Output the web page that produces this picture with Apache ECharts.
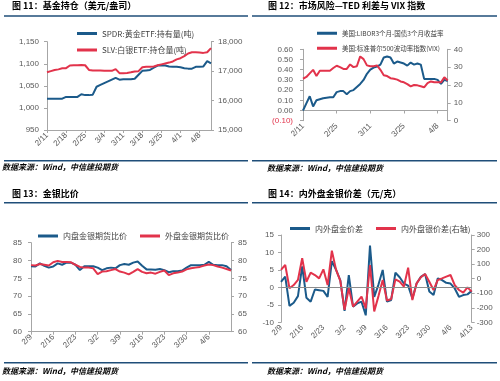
<!DOCTYPE html>
<html><head><meta charset="utf-8">
<script src="https://cdn.jsdelivr.net/npm/echarts@6/dist/echarts.min.js"></script>
<style>html,body{margin:0;padding:0;background:#fff}#c{width:500px;height:381px}</style>
</head><body><div id="c"></div>
<script>
// ---------- DATA ----------
const datesA = ['2/11','2/12','2/13','2/16','2/17','2/18','2/19','2/20','2/23','2/24','2/25','2/26','2/27','3/2','3/3','3/4','3/5','3/6','3/9','3/10','3/11','3/12','3/13','3/16','3/17','3/18','3/19','3/20','3/23','3/24','3/25','3/26','3/27','3/30','3/31','4/1','4/2','4/3','4/6','4/7','4/8','4/9','4/10','4/13'];
const datesB = ['2/9','2/10','2/11','2/12','2/13','2/16','2/17','2/18','2/19','2/20','2/23','2/24','2/25','2/26','2/27','3/2','3/3','3/4','3/5','3/6','3/9','3/10','3/11','3/12','3/13','3/16','3/17','3/18','3/19','3/20','3/23','3/24','3/25','3/26','3/27','3/30','3/31','4/1','4/2','4/3','4/6','4/7','4/8','4/9','4/10','4/13'];

// Fig 11
const spdrName = 'SPDR:黄金ETF:持有量(吨)';
const slvName = 'SLV:白银ETF:持仓量(吨)';
const spdr = [1021,1021,1021,1021,1021,1025,1025,1025,1025,1031,1029,1029,1030,1048,1052,1056,1060,1064,1068,1064,1065,1065,1065,1066,1075,1084,1085,1086,1091,1096,1096,1096,1094,1093,1093,1092,1090,1089,1089,1093,1093,1094,1106,1101];
const slv = [16960,17000,17040,17060,17095,17100,17190,17200,17200,17210,17200,17040,17020,17020,17020,17010,17010,17010,17070,16930,16930,16940,16960,16990,17000,17130,17150,17150,17160,17200,17230,17260,17290,17330,17400,17440,17510,17600,17640,17640,17630,17620,17640,17780];

// Fig 12
const tedName = '美国:LIBOR3个月-国债3个月收益率';
const vixName = '美国:标准普尔500波动率指数(VIX)';
const ted = [0.00,0.07,0.14,0.04,0.10,0.11,0.12,0.125,0.13,0.13,0.18,0.19,0.19,0.16,0.19,0.20,0.23,0.26,0.30,0.36,0.40,0.42,0.43,0.45,0.52,0.53,0.52,0.46,0.48,0.47,0.46,0.44,0.47,0.45,0.46,0.45,0.31,0.31,0.31,0.31,0.30,0.26,0.30,0.29];
const vix = [23.5,24.5,26.5,28.5,25,28,28,28,28,29.5,30.8,30,29,29,31.5,30,30.5,36,34.5,31,30.5,30.5,31,28.5,25.5,25,23.8,23.5,23,22,21.5,20.5,19.2,20,19.8,19.3,18.7,21,22,21.5,21.5,21.5,24.3,22.5];

// Fig 13
const domName = '内盘金银期货比价';
const forName = '外盘金银期货比价';
const ratioDom = [78.4,78.3,79.2,78.5,78.0,78.3,79.2,78.8,79.4,79.4,78.8,77.3,78.4,78.4,78.4,78.0,77.3,77.8,78.0,77.8,78.7,79.0,78.8,79.4,79.7,78.5,77.5,77.5,77.4,77.6,77.3,76.7,77.0,77.0,77.2,78.0,78.7,78.7,78.7,78.8,79.6,78.8,78.7,78.7,78.4,77.3];
const ratioFor = [78.7,78.6,79.0,78.8,78.6,79.5,79.9,79.6,79.6,79.5,78.8,78.2,78.0,78.0,77.8,76.2,76.9,77.0,77.3,77.6,76.9,76.6,76.1,76.8,77.6,76.8,76.4,76.6,76.3,76.8,77.2,75.9,76.4,76.6,76.9,77.5,77.8,78.0,78.2,78.6,78.9,78.7,78.3,78.0,77.6,77.2];

// Fig 14
const goldName = '内外盘金价差';
const silverName = '内外盘银价差(右轴)';
const goldDiff = [1.6,3.1,-5.3,-4.4,-2.5,6.0,-3.0,-4.1,-0.6,-0.8,-1.0,-2.7,7.5,5.0,2.0,-6.7,3.5,-5.5,-4.6,-4.1,-8.0,12.0,-2.7,0.8,5.0,-4.1,-3.6,4.2,2.9,1.1,0.5,-3.2,1.1,3.0,3.8,-1.2,-2.2,2.6,2.1,1.3,1.1,-0.3,-2.7,-2.2,-2.0,-1.0];
const silverDiff = [60,94,-66,-44,-9,140,-21,41,25,2,64,-44,192,60,-15,-215,-66,-192,-158,-124,-204,94,-225,-120,-9,-150,-140,-5,-21,-55,75,-147,-32,10,32,-21,-78,-9,2,14,25,-44,-78,-96,-60,-89];

const titles = ['图 11：基金持仓（美元/盎司）','图 12：市场风险—TED 利差与 VIX 指数','图 13：金银比价','图 14：内外盘金银价差（元/克）'];
const sourceText = '数据来源：Wind，中信建投期货';

// ---------- STYLE ----------
const BLUE = '#1b5a8a', RED = '#e2334b', AX = '#a6a6a6', LAB = '#595959', RULE = '#1f4e79';
const FF = '"Liberation Sans", Arial, "Noto Sans CJK SC", sans-serif';
const CJK = '"Noto Sans CJK SC", "Liberation Sans", sans-serif';

function yAx(grid, min, max, interval, pos, margin, fmt) {
  return { type:'value', gridIndex:grid, min, max, interval, position:pos,
    axisLine:{show:true, lineStyle:{color:AX, width:1}},
    axisTick:{show:true, length:3, lineStyle:{color:AX}},
    splitLine:{show:false},
    axisLabel:{color:LAB, fontSize:8, fontFamily:FF, margin, formatter:fmt,
      rich:{neg:{color:'#e2334b', fontSize:8, fontFamily:FF}}}
  };
}
function xAx(grid, data, showFn, opts) {
  return Object.assign({ type:'category', gridIndex:grid, data, boundaryGap:false,
    axisLine:{show:true, lineStyle:{color:AX}},
    axisTick:{show:true, length:3, interval:showFn, lineStyle:{color:AX}},
    splitLine:{show:false},
    axisLabel:{color:LAB, fontSize:8, fontFamily:FF, rotate:45, margin:4, interval:showFn}
  }, opts||{});
}
function ln(name, data, xi, yi, color, extra) {
  return Object.assign({ name, type:'line', data, xAxisIndex:xi, yAxisIndex:yi, symbol:'none',
    lineStyle:{color, width:2}, itemStyle:{color}, animation:false }, extra||{});
}
function lg(name, left, top, fs) {
  return { data:[name], left, top, icon:'rect', itemWidth:20, itemHeight:3, padding:0,
    textStyle:{color:'#404040', fontSize:fs, fontFamily:CJK}, selectedMode:false };
}
const thou = v => v.toLocaleString('en-US');

const option = {
  animation:false,
  grid:[
    {left:47, top:41.7, width:164, height:88.3},
    {left:303, top:49.3, width:144.7, height:71.4},
    {left:31, top:242.7, width:200, height:89},
    {left:281, top:235, width:190.7, height:87.3}
  ],
  xAxis:[
    xAx(0, datesA, (i)=> i%5===0),
    xAx(1, datesA, (i)=> i%10===0, {axisLine:{show:true, onZero:true, onZeroAxisIndex:2, lineStyle:{color:AX}}}),
    xAx(2, datesB, (i)=> i%5===0 && i<45),
    xAx(3, datesB, (i)=> i%5===0, {axisLine:{show:false}, axisTick:{show:false}})
  ],
  yAxis:[
    yAx(0, 950, 1150, 50, 'left', 8, thou),
    yAx(0, 15000, 18000, 1000, 'right', 7, thou),
    yAx(1, -0.1, 0.6, 0.1, 'left', 10, v => v < 0 ? '{neg|(' + Math.abs(v).toFixed(2) + ')}' : v.toFixed(2)),
    yAx(1, 0, 40, 10, 'right', 6, v => String(v)),
    yAx(2, 60, 85, 5, 'left', 9, v => String(v)),
    yAx(2, 60, 85, 5, 'right', 7, v => String(v)),
    yAx(3, -10, 15, 5, 'left', 7, v => String(v)),
    yAx(3, -300, 300, 100, 'right', 5, v => String(v))
  ],
  legend:[
    lg(spdrName, 77, 29.5, 8),
    lg(slvName, 77, 46, 8),
    lg(tedName, 317, 30, 6.5),
    lg(vixName, 317, 45, 6.5),
    lg(domName, 38, 232, 8),
    lg(forName, 140, 232, 8),
    lg(goldName, 290, 224.5, 8),
    lg(silverName, 376, 224.5, 8)
  ],
  series:[
    ln(spdrName, spdr, 0, 0, BLUE),
    ln(slvName, slv, 0, 1, RED),
    ln(tedName, ted, 1, 2, BLUE),
    ln(vixName, vix, 1, 3, RED),
    ln(domName, ratioDom, 2, 4, BLUE),
    ln(forName, ratioFor, 2, 5, RED),
    ln(goldName, goldDiff, 3, 6, BLUE, {markLine:{silent:true, symbol:'none', label:{show:false},
      lineStyle:{color:'#8c8c8c', width:1, type:'solid'}, data:[{yAxis:0}], animation:false}}),
    ln(silverName, silverDiff, 3, 7, RED)
  ],
  graphic: (function(){
    const g = [];
    const pos = [[12,7,4,248,16,160.7,2,168.5],[268,7,252,497,16,160.7,267,169.5],[12,195,4,248,202.7,362.7,2,372.5],[268,195,252,497,202.7,362.7,267,372.5]];
    pos.forEach((p,k)=>{
      g.push({type:'text', left:p[0], top:p[1]-6, style:{text:titles[k], font:'bold 9px "Noto Sans CJK SC", sans-serif', fill:'#000'}});
      g.push({type:'line', shape:{x1:p[2], y1:p[4], x2:p[3], y2:p[4]}, style:{stroke:RULE, lineWidth:1.5}});
      g.push({type:'line', shape:{x1:p[2], y1:p[5], x2:p[3], y2:p[5]}, style:{stroke:RULE, lineWidth:1.5}});
      g.push({type:'text', left:p[6], top:p[7]-5.5, style:{text:sourceText, font:'italic bold 8px "Noto Sans CJK SC", sans-serif', fill:'#000'}});
    });
    return g;
  })()
};
const chart = echarts.init(document.getElementById('c'), null, {renderer:'canvas'});
chart.setOption(option);
</script>
</body></html>
